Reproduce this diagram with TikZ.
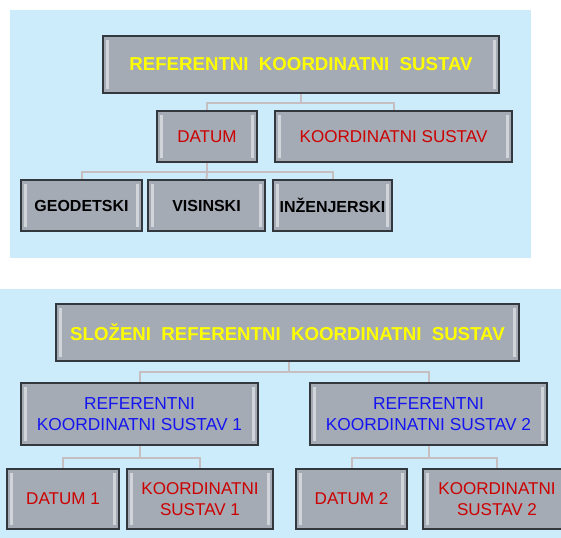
\documentclass[tikz,border=0pt]{standalone}
\usepackage{fontspec}
\setmainfont{Liberation Sans}
\usetikzlibrary{shadows}

\definecolor{pozadina}{RGB}{204,236,252}
\definecolor{sivaboks}{RGB}{164,171,181}
\definecolor{rub}{RGB}{50,56,62}
\definecolor{vezaboja}{RGB}{198,190,192}
\definecolor{zuta}{RGB}{255,255,0}
\definecolor{crvena}{RGB}{204,0,0}
\definecolor{plava}{RGB}{20,20,240}

\tikzset{every picture/.style={line width=0.75pt}}
\tikzset{
  boks/.style={draw=rub, line width=1.2pt, fill=sivaboks, inner sep=2pt, align=center,
    font=\fontsize{12.8}{16}\selectfont,
    drop shadow={shadow xshift=0.9pt, shadow yshift=-0.9pt, opacity=0.35},
    path picture={
      \fill[white,opacity=0.5] ([xshift=2.5pt,yshift=-3pt]path picture bounding box.north west) rectangle ([xshift=4.5pt,yshift=3pt]path picture bounding box.south west);
      \fill[white,opacity=0.5] ([xshift=-2.5pt,yshift=-3pt]path picture bounding box.north east) rectangle ([xshift=-4.5pt,yshift=3pt]path picture bounding box.south east);
    }},
  naslov/.style={text=zuta, font=\fontsize{14}{17}\selectfont\bfseries},
  crni/.style={text=black, font=\fontsize{12}{16}\selectfont\bfseries},
  crveni/.style={text=crvena},
  plavi/.style={text=plava, font=\fontsize{13}{16.3}\selectfont},
  veza/.style={draw=vezaboja, line width=1.5pt}
}

\begin{document}
\begin{tikzpicture}[x=0.75pt,y=0.75pt,yscale=-1]
\useasboundingbox (0,0) rectangle (561,538);
\clip (0,0) rectangle (561,538);

%Backgrounds
\fill [pozadina] (10,10) rectangle (531,258);
\fill [pozadina] (0,289) rectangle (561,538);

%Top diagram
\node [boks, naslov, minimum width=297pt, minimum height=42.75pt] (rks) at (301,64.5) {REFERENTNI\ \ KOORDINATNI\ \ SUSTAV};
\node [boks, crveni, minimum width=75pt, minimum height=38.25pt] (datum) at (207,136.5) {DATUM};
\node [boks, crveni, minimum width=177.75pt, minimum height=38.25pt] (ks) at (393.5,136.5) {KOORDINATNI SUSTAV};
\node [boks, crni, minimum width=90.75pt, minimum height=38.25pt] (geo) at (81.5,205.5) {GEODETSKI};
\node [boks, crni, minimum width=87.75pt, minimum height=38.25pt] (vis) at (206.5,205.5) {VISINSKI};
\node [boks, crni, minimum width=89.25pt, minimum height=38.25pt] (inz) at (332.5,205.5) {INŽENJERSKI};

\coordinate (sabirnica1) at (301,103);
\coordinate (sabirnica2) at (207,172);
\draw [veza] (rks.south) -- (sabirnica1) -| (datum.north);
\draw [veza] (sabirnica1) -| (ks.north);
\draw [veza] (datum.south) -- (sabirnica2) -| (geo.north);
\draw [veza] (sabirnica2) -- (vis.north);
\draw [veza] (sabirnica2) -| (inz.north);

%Bottom diagram
\node [boks, naslov, minimum width=347.25pt, minimum height=42.75pt] (srks) at (287.5,332.5) {SLOŽENI\ \ REFERENTNI\ \ KOORDINATNI\ \ SUSTAV};
\node [boks, plavi, minimum width=177.75pt, minimum height=46.5pt] (rks1) at (139.5,414) {REFERENTNI\\KOORDINATNI SUSTAV 1};
\node [boks, plavi, minimum width=177.75pt, minimum height=46.5pt] (rks2) at (428.5,414) {REFERENTNI\\KOORDINATNI SUSTAV 2};
\node [boks, crveni, minimum width=84pt, minimum height=45pt] (d1) at (63,499) {DATUM 1};
\node [boks, crveni, minimum width=109.5pt, minimum height=45pt] (ks1) at (200,499) {KOORDINATNI\\SUSTAV 1};
\node [boks, crveni, minimum width=83.25pt, minimum height=45pt] (d2) at (351.5,499) {DATUM 2};
\node [boks, crveni, minimum width=111pt, minimum height=45pt] (ks2) at (497,499) {KOORDINATNI\\SUSTAV 2};

\coordinate (sabirnica3) at (289,372);
\coordinate (sabirnica4) at (139.5,458);
\coordinate (sabirnica5) at (428.5,458);
\draw [veza] (srks.south -| sabirnica3) -- (sabirnica3) -| (rks1.north);
\draw [veza] (sabirnica3) -| (rks2.north);
\draw [veza] (rks1.south) -- (sabirnica4) -| (d1.north);
\draw [veza] (sabirnica4) -| (ks1.north);
\draw [veza] (rks2.south) -- (sabirnica5) -| (d2.north);
\draw [veza] (sabirnica5) -| (ks2.north);

\end{tikzpicture}
\end{document}
